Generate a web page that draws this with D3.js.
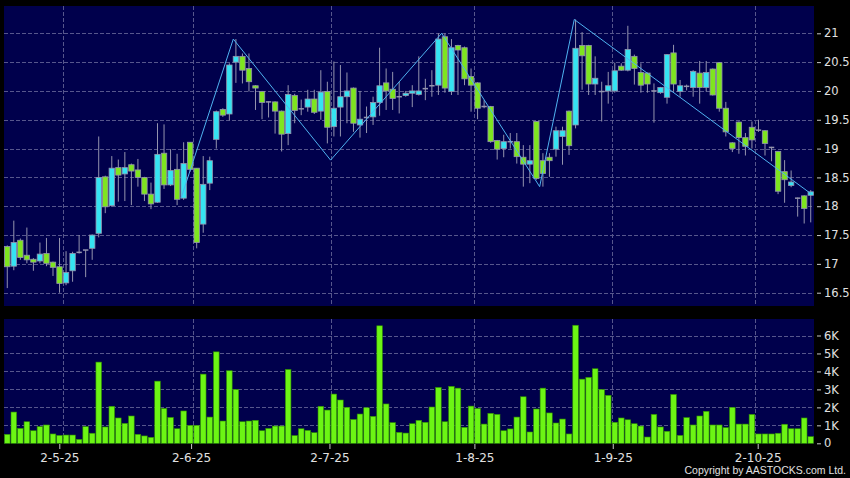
<!DOCTYPE html>
<html>
<head>
<meta charset="utf-8">
<script src="https://cdn.jsdelivr.net/npm/d3@7"></script>
<style>
  body { margin: 0; background: #000; }
  svg { display: block; }
  .axis text { fill: #e0e0e0; font-family: "DejaVu Sans", sans-serif; }
  .axis line { stroke: #c8c8c8; }
</style>
</head>
<body>
<script>
// daily candles, index 0 .. 123
var open  = [17.30,16.96,17.41,17.15,17.08,17.05,17.18,17.03,16.95,16.67,16.88,17.20,17.24,17.27,17.53,18.51,18.01,18.67,18.56,18.72,
             18.63,18.50,18.21,18.07,18.92,18.37,18.64,18.14,19.11,18.66,17.69,18.40,19.16,19.68,19.60,20.50,20.60,20.39,20.09,19.99,
             19.81,19.81,19.65,19.26,19.92,19.69,19.72,19.86,19.65,19.99,19.38,19.72,19.90,20.05,19.41,19.54,19.55,19.80,20.14,20.03,
             19.90,19.92,19.96,19.94,20.04,20.09,20.10,20.94,19.99,20.79,20.75,20.25,20.14,19.73,19.73,19.14,19.00,19.12,19.12,18.85,
             18.73,19.47,18.79,18.85,18.99,19.21,19.65,19.41,20.79,20.79,20.12,19.99,20.00,20.00,20.43,20.36,20.60,20.32,20.31,20.00,
             19.97,19.89,20.66,19.99,20.08,20.06,20.31,20.06,20.38,20.49,19.70,19.10,19.46,19.19,19.37,19.32,19.31,19.02,18.95,18.60,
             18.36,18.14,18.18,18.19];
var high  = [17.32,17.75,17.44,17.63,17.10,17.37,17.45,17.04,17.45,17.22,17.21,17.50,17.24,17.51,19.21,18.53,18.87,18.81,18.94,18.74,
             18.82,18.51,18.41,19.44,19.42,18.99,18.91,19.11,19.11,18.66,18.87,18.86,19.66,19.70,20.48,20.90,20.65,20.65,20.10,20.00,
             19.82,19.82,19.66,20.10,19.95,19.85,20.02,20.02,20.36,20.16,20.51,20.45,20.32,20.06,20.00,19.73,19.90,20.75,20.39,20.33,
             20.16,20.00,20.10,20.60,20.21,20.36,21.00,21.00,20.90,20.80,20.77,20.39,20.15,19.84,19.74,19.15,19.24,19.27,19.27,19.06,
             19.06,19.47,18.92,18.92,19.38,19.38,19.66,21.24,21.02,20.80,20.60,20.16,20.33,20.49,20.48,21.13,20.63,20.48,20.32,20.13,
             20.07,20.64,20.80,20.19,20.11,20.36,20.52,20.52,20.39,20.50,19.81,19.11,19.47,19.27,19.47,19.50,19.32,19.03,18.96,18.80,
             18.62,18.15,18.19,18.28];
var low   = [16.58,16.89,17.07,17.01,16.88,17.01,16.96,16.79,16.50,16.63,16.69,17.18,16.77,17.07,17.46,17.88,17.99,18.08,18.09,18.02,
             18.34,18.09,17.95,18.06,18.30,18.35,18.02,18.11,18.60,17.27,17.54,18.28,19.00,19.55,19.49,20.14,20.13,19.99,19.67,19.51,
             19.54,19.26,18.95,19.06,19.44,19.58,19.64,19.60,19.50,19.09,19.21,19.21,19.44,19.29,19.19,19.27,19.41,19.57,19.67,19.67,
             19.61,19.90,19.72,19.92,19.84,19.90,19.93,19.97,19.93,19.93,20.10,19.64,19.51,19.70,19.10,18.81,18.85,19.00,18.74,18.34,
             18.40,18.46,18.34,18.51,18.86,18.72,18.89,19.35,20.02,19.93,19.93,19.47,19.78,19.97,20.35,20.34,20.11,19.97,19.97,19.45,
             19.95,19.78,19.99,19.90,20.01,19.90,19.78,19.99,19.92,19.64,19.21,18.94,18.91,18.88,19.00,19.29,18.88,18.78,18.21,18.06,
             18.33,17.82,17.70,17.72];
var close = [16.95,17.37,17.11,17.07,17.03,17.17,17.01,16.94,16.66,16.85,17.18,17.20,17.24,17.50,18.50,17.99,18.66,18.54,18.67,18.61,
             18.50,18.21,18.04,18.90,18.37,18.62,18.12,18.74,18.64,17.37,18.38,18.79,19.64,19.58,20.45,20.60,20.36,20.16,20.05,19.80,
             19.81,19.65,19.25,19.94,19.66,19.69,19.86,19.63,19.98,19.37,19.70,19.90,20.00,19.44,19.51,19.54,19.80,20.09,20.00,19.87,
             19.90,19.96,20.00,20.00,20.04,20.09,20.90,20.05,20.75,20.71,20.21,20.10,19.70,19.73,19.12,18.99,19.12,19.12,18.86,18.73,
             18.79,18.48,18.57,18.79,19.31,19.31,19.05,20.74,20.61,20.12,20.22,19.99,20.09,20.35,20.36,20.72,20.39,20.10,20.12,20.00,
             20.06,20.63,20.12,20.09,20.08,20.34,20.06,20.32,19.93,19.70,19.29,19.00,19.19,19.04,19.15,19.32,19.09,19.02,18.26,18.46,
             18.42,18.14,17.96,18.25];
// volume in thousands
var volume = [0.50,1.74,0.83,1.20,0.70,0.93,1.02,0.52,0.44,0.46,0.46,0.22,0.93,0.56,4.52,0.91,2.06,1.41,1.11,1.52,
              0.50,0.41,0.33,3.46,1.94,1.44,0.81,1.80,1.00,1.00,3.85,1.46,5.09,1.24,4.04,3.00,1.20,1.24,1.28,0.70,
              0.83,0.96,0.96,4.11,0.43,0.81,0.72,0.59,2.06,1.85,2.74,2.41,2.00,1.33,1.63,1.98,1.50,6.54,2.19,1.15,
              0.61,0.57,1.09,1.28,1.17,2.02,3.11,1.20,3.17,3.07,0.89,2.07,1.94,1.07,1.67,1.61,0.70,0.80,1.46,2.59,
              0.63,1.91,3.07,1.69,1.13,1.35,0.52,6.57,3.57,3.67,4.15,3.00,2.67,1.17,1.41,1.31,1.09,0.96,0.35,1.61,
              0.91,0.67,2.72,0.44,1.43,1.02,1.52,1.78,1.02,1.02,0.87,2.00,1.07,1.07,1.61,0.52,0.52,0.52,0.56,1.06,
              0.81,0.81,1.41,0.37];

// wave line drawn over the candles: [index, price]
var wave = [[26.6,18.14],[34.6,20.90],[49.5,18.80],[66.5,21.00],[81.5,18.34],[86.8,21.24],[123,18.22]];

// first trading day of each month
var dateIndex  = [8, 28, 49, 71, 92, 114];
var dateLabels = ["2-5-25", "2-6-25", "2-7-25", "1-8-25", "1-9-25", "2-10-25"];
var priceTicks = [16.5, 17, 17.5, 18, 18.5, 19, 19.5, 20, 20.5, 21];
var volTicks   = [0, 1, 2, 3, 4, 5, 6];

var n = close.length;
var candles = d3.range(n).map(function(i) {
    return {i: i, o: open[i], h: high[i], l: low[i], c: close[i], v: volume[i]};
});

var W = 850, H = 478;
var left = 4, right = 814;
var mainTop = 6, mainBottom = 306;
var volTop = 319, volBottom = 443.5;

var svg = d3.select("body").append("svg")
    .attr("width", W)
    .attr("height", H);

var x = d3.scaleLinear().domain([-0.5, n - 0.5]).range([left, right]);
// the date labels sit on a slightly wider scale than the candles
var xTick = d3.scaleLinear().domain([0, n - 1]).range([6.6, 817]);
var y = d3.scaleLinear().domain([16.5, 21]).range([292.7, 33.3]);
var yv = d3.scaleLinear().domain([0, 6]).range([443.3, 335.5]);

var bodyW = 5.4, volW = 5.6;

var panelColor = "#00004c", gridColor = "#56568c";
var upColor = "#35e3f2", downColor = "#7ee51f", edgeColor = "#9494ae";

// panels
svg.append("rect")
    .attr("x", left).attr("y", mainTop)
    .attr("width", right - left).attr("height", mainBottom - mainTop)
    .attr("fill", panelColor);
svg.append("rect")
    .attr("x", left).attr("y", volTop)
    .attr("width", right - left).attr("height", volBottom - volTop)
    .attr("fill", panelColor);

// grid lines
var grid = svg.append("g")
    .attr("stroke", gridColor)
    .attr("stroke-width", 1)
    .attr("stroke-dasharray", "4,2");

grid.selectAll(".hp").data(priceTicks).enter().append("line")
    .attr("x1", left).attr("x2", right)
    .attr("y1", function(d) { return Math.round(y(d)) + 0.5; })
    .attr("y2", function(d) { return Math.round(y(d)) + 0.5; });

grid.selectAll(".hv").data(volTicks.slice(1)).enter().append("line")
    .attr("x1", left).attr("x2", right)
    .attr("y1", function(d) { return Math.round(yv(d)) + 0.5; })
    .attr("y2", function(d) { return Math.round(yv(d)) + 0.5; });

grid.selectAll(".vm").data(dateIndex).enter().append("line")
    .attr("x1", function(d) { return Math.round(x(d + 0.5)) + 0.5; })
    .attr("x2", function(d) { return Math.round(x(d + 0.5)) + 0.5; })
    .attr("y1", mainTop).attr("y2", mainBottom);

grid.selectAll(".vv").data(dateIndex).enter().append("line")
    .attr("x1", function(d) { return Math.round(x(d + 0.5)) + 0.5; })
    .attr("x2", function(d) { return Math.round(x(d + 0.5)) + 0.5; })
    .attr("y1", volTop).attr("y2", volBottom);

// candles
var candle = svg.append("g").selectAll("g")
    .data(candles)
    .enter().append("g");

candle.append("line")
    .attr("x1", function(d) { return x(d.i); })
    .attr("x2", function(d) { return x(d.i); })
    .attr("y1", function(d) { return y(d.h); })
    .attr("y2", function(d) { return y(d.l); })
    .attr("stroke", edgeColor)
    .attr("stroke-width", 1);

candle.filter(function(d) { return d.o !== d.c; })
    .append("rect")
    .attr("x", function(d) { return x(d.i) - bodyW / 2; })
    .attr("width", bodyW)
    .attr("y", function(d) { return y(Math.max(d.o, d.c)); })
    .attr("height", function(d) { return Math.max(1, y(Math.min(d.o, d.c)) - y(Math.max(d.o, d.c))); })
    .attr("fill", function(d) { return d.c > d.o ? upColor : downColor; })
    .attr("stroke", edgeColor)
    .attr("stroke-width", 0.8);

candle.filter(function(d) { return d.o === d.c; })
    .append("line")
    .attr("x1", function(d) { return x(d.i) - bodyW / 2; })
    .attr("x2", function(d) { return x(d.i) + bodyW / 2; })
    .attr("y1", function(d) { return y(d.c); })
    .attr("y2", function(d) { return y(d.c); })
    .attr("stroke", edgeColor)
    .attr("stroke-width", 1.5);

// wave line
var waveLine = d3.line()
    .x(function(d) { return x(d[0]); })
    .y(function(d) { return y(d[1]); });

svg.append("path")
    .datum(wave)
    .attr("d", waveLine)
    .attr("fill", "none")
    .attr("stroke", "#4fb2f0")
    .attr("stroke-width", 1);

// volume bars
svg.append("g").selectAll("rect")
    .data(candles)
    .enter().append("rect")
    .attr("x", function(d) { return x(d.i) - volW / 2; })
    .attr("width", volW)
    .attr("y", function(d) { return yv(d.v); })
    .attr("height", function(d) { return yv(0) - yv(d.v); })
    .attr("fill", "#6cf514")
    .attr("stroke", "#2f8f00")
    .attr("stroke-width", 0.6);

// right axes
var priceAxis = d3.axisRight(y)
    .tickValues(priceTicks)
    .tickSize(4)
    .tickPadding(3)
    .tickFormat(d3.format(""));

svg.append("g")
    .attr("class", "axis")
    .attr("transform", "translate(817,0)")
    .call(priceAxis)
    .call(function(g) { g.select(".domain").remove(); })
    .selectAll("text")
    .style("font-size", "11.5px");

var volAxis = d3.axisRight(yv)
    .tickValues(volTicks)
    .tickSize(4)
    .tickPadding(3)
    .tickFormat(function(d) { return d === 0 ? "0" : d + "K"; });

svg.append("g")
    .attr("class", "axis")
    .attr("transform", "translate(817,0)")
    .call(volAxis)
    .call(function(g) { g.select(".domain").remove(); })
    .selectAll("text")
    .style("font-size", "11.5px");

// date axis
var dateAxis = d3.axisBottom(xTick)
    .tickValues(dateIndex)
    .tickSize(5)
    .tickPadding(4)
    .tickFormat(function(d, i) { return dateLabels[i]; });

svg.append("g")
    .attr("class", "axis")
    .attr("transform", "translate(0,444)")
    .call(dateAxis)
    .call(function(g) { g.select(".domain").remove(); })
    .selectAll("text")
    .style("font-size", "12px");

svg.append("text")
    .attr("x", 846)
    .attr("y", 474)
    .attr("text-anchor", "end")
    .style("font-family", "Liberation Sans, Arial, sans-serif")
    .style("font-size", "10.5px")
    .style("fill", "#e0e0e0")
    .text("Copyright by AASTOCKS.com Ltd.");
</script>
</body>
</html>
